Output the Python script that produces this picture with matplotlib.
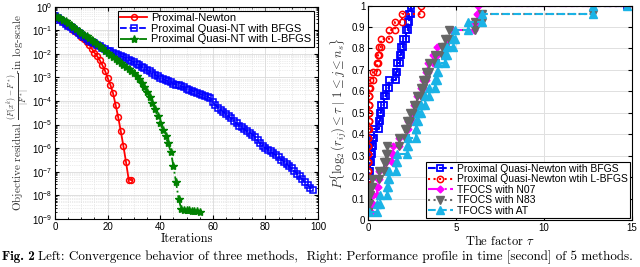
import numpy as np
import matplotlib
matplotlib.use("Agg")
import matplotlib.pyplot as plt
from matplotlib.ticker import FixedLocator, FuncFormatter, LogLocator, MultipleLocator, NullFormatter

# ---- left panel: log10 of relative objective residual per iteration
newton_log10 = [-0.40, -0.48, -0.56, -0.64, -0.72, -0.80, -0.88, -0.97, -1.06, -1.16,
                -1.27, -1.38, -1.50, -1.62, -1.78, -1.95, -2.10, -2.27, -2.48, -2.72,
                -3.02, -3.30, -3.65, -4.15, -4.68, -5.28, -5.92, -6.60, -7.33, -7.35]
bfgs_log10 = [-0.40, -0.48, -0.56, -0.64, -0.72, -0.80, -0.88, -0.96, -1.04, -1.12,
              -1.20, -1.28, -1.36, -1.44, -1.50, -1.56, -1.62, -1.68, -1.74, -1.80,
              -1.86, -1.90, -1.95, -2.00, -2.04, -2.09, -2.14, -2.18, -2.24, -2.30,
              -2.36, -2.42, -2.48, -2.55, -2.62, -2.68, -2.74, -2.80, -2.88, -2.95,
              -3.02, -3.06, -3.12, -3.16, -3.21, -3.26, -3.30, -3.33, -3.38, -3.42,
              -3.47, -3.52, -3.56, -3.60, -3.64, -3.70, -3.74, -3.78, -3.82, -3.88,
              -4.05, -4.18, -4.28, -4.38, -4.46, -4.56, -4.64, -4.74, -4.84, -4.95,
              -5.04, -5.12, -5.20, -5.28, -5.34, -5.42, -5.52, -5.66, -5.80, -5.92,
              -6.00, -6.06, -6.14, -6.22, -6.30, -6.38, -6.48, -6.58, -6.66, -6.76,
              -6.86, -6.98, -7.08, -7.20, -7.32, -7.44, -7.56, -7.68, -7.79]
lbfgs_log10 = [-0.38, -0.43, -0.49, -0.55, -0.62, -0.69, -0.77, -0.85, -0.93, -1.02,
               -1.10, -1.18, -1.25, -1.33, -1.40, -1.48, -1.57, -1.67, -1.77, -1.88,
               -1.98, -2.06, -2.14, -2.22, -2.30, -2.38, -2.46, -2.55, -2.64, -2.72,
               -2.80, -2.92, -3.06, -3.22, -3.40, -3.60, -3.85, -4.10, -4.35, -4.65,
               -4.95, -5.22, -5.50, -5.80, -6.15, -6.75, -7.45, -8.15, -8.58, -8.60,
               -8.62, -8.63, -8.65, -8.66, -8.68, -8.70]
left_labels = ["Proximal-Newton", "Proximal Quasi-NT with BFGS", "Proximal Quasi-NT with L-BFGS"]

# ---- right panel: sorted log2 time ratios of the 26 problems
tau_bfgs = [0.0, 0.0, 0.02, 0.04, 0.06, 0.08, 0.1, 0.15, 0.2, 0.26, 0.36, 0.6, 0.66,
            0.75, 0.9, 1.0, 1.2, 1.6, 1.65, 1.8, 1.9, 2.0, 2.15, 2.3, 2.35, 2.45]
tau_lbfgs = [0.0, 0.0, 0.0, 0.0, 0.0, 0.0, 0.0, 0.01, 0.01, 0.02, 0.02, 0.03, 0.03,
             0.04, 0.05, 0.06, 0.1, 0.3, 0.5, 0.55, 0.65, 0.75, 1.2, 1.55, 1.95, 3.0]
tau_n07 = [0.1, 0.15, 0.3, 0.5, 0.55, 0.6, 1.0, 1.35, 1.4, 1.75, 2.2, 2.3, 2.5,
           2.6, 2.8, 3.0, 3.15, 3.3, 3.4, 3.7, 3.9, 4.5, 4.75, 6.05, 6.2, 6.25]
tau_n83 = [0.0, 0.02, 0.05, 0.1, 0.2, 0.6, 0.9, 1.05, 1.1, 1.75, 2.1, 2.2, 2.4,
           2.6, 2.8, 3.0, 3.15, 3.3, 3.45, 3.8, 4.2, 4.4, 4.6, 6.1, 6.5, 12.8]
tau_at = [0.05, 0.5, 0.7, 1.1, 1.15, 1.2, 1.6, 1.65, 2.2, 2.3, 2.7, 2.75, 2.85,
          3.0, 3.25, 3.45, 3.8, 3.9, 4.0, 4.4, 4.5, 4.85, 4.95, 5.7, 6.5, 12.8]
tau_max = 14.7
right_labels = ["Proximal Quasi-Newton with BFGS", "Proximal Quasi-Newton wtih L-BFGS",
                "TFOCS with N07", "TFOCS with N83", "TFOCS with AT"]

plt.rcParams["font.family"] = ["Liberation Sans", "DejaVu Sans"]
plt.rcParams["font.size"] = 7

fig = plt.figure(figsize=(6.4, 2.67), dpi=100)
ax1 = fig.add_axes([0.086, 0.18, 0.411, 0.795])
ax2 = fig.add_axes([0.575, 0.176, 0.4125, 0.803])

it = lambda v: np.arange(len(v))
ax1.semilogy(it(newton_log10), 10.0 ** np.array(newton_log10), "-o", color="red",
             lw=1.3, ms=4.2, mfc="none", mew=1.1, label=left_labels[0])
ax1.semilogy(it(bfgs_log10), 10.0 ** np.array(bfgs_log10), "--s", color="blue",
             lw=1.3, ms=3.8, mfc="none", mew=1.1, label=left_labels[1])
ax1.semilogy(it(lbfgs_log10), 10.0 ** np.array(lbfgs_log10), "-.*", color=(0, 0.5, 0),
             lw=1.3, ms=6, label=left_labels[2])
ax1.set_xlim(0, 100)
ax1.set_ylim(1e-9, 1)
ax1.xaxis.set_major_locator(MultipleLocator(20))
ax1.xaxis.set_minor_locator(MultipleLocator(5))
ax1.yaxis.set_major_locator(LogLocator(base=10, numticks=12))
ax1.yaxis.set_minor_locator(LogLocator(base=10, subs=np.arange(2, 10), numticks=12))
ax1.yaxis.set_minor_formatter(NullFormatter())
ax1.yaxis.set_major_formatter(FuncFormatter(lambda v, p: r"$\mathregular{10^{%d}}$" % round(np.log10(v))))
ax1.grid(True, which="major", color="0.85", lw=0.6)
ax1.grid(True, which="minor", color="0.85", lw=0.5, ls=":")
ax1.set_axisbelow(True)
ax1.set_xlabel("Iterations", fontfamily="cmr10", fontsize=9, labelpad=1)
ax1.set_ylabel(r"Objective residual $\frac{(F(x^k)-F^*)}{|F^*|}$-in log-scale",
               fontfamily="cmr10", math_fontfamily="cm", fontsize=8, labelpad=0, color="0.2")
leg1 = ax1.legend(loc="upper right", fontsize=8, fancybox=False, framealpha=1,
                  edgecolor="black", borderpad=0.2, labelspacing=0.05, handlelength=2.4,
                  handletextpad=0.4, borderaxespad=0.4)
leg1.get_frame().set_linewidth(0.8)


def profile(tau):
    # stair vertices of the performance profile, marker on every corner
    n = len(tau)
    xs, ys = [], []
    for k, t in enumerate(tau):
        if k > 0:
            xs.append(t)
            ys.append(k / n)
        xs.append(t)
        ys.append((k + 1) / n)
    xs.append(tau_max)
    ys.append(1.0)
    return xs, ys


styles = [
    dict(ls="--", marker="s", color="blue", mfc="none", ms=3.8, mew=1.3),
    dict(ls=":", marker="o", color="red", mfc="none", ms=4.5, mew=1.1),
    dict(ls="-.", marker="D", color="magenta", mfc="magenta", ms=3.5),
    dict(ls=":", marker="v", color="0.4", mfc="0.4", ms=5.5),
    dict(ls="--", marker="^", color=(0.1, 0.7, 0.9), mfc=(0.1, 0.7, 0.9), ms=5.5),
]
for tau, lab, st in zip([tau_bfgs, tau_lbfgs, tau_n07, tau_n83, tau_at], right_labels, styles):
    xs, ys = profile(tau)
    ax2.plot(xs, ys, lw=1.5, label=lab, **st)
ax2.set_xlim(0, 15)
ax2.set_ylim(0, 1)
ax2.xaxis.set_major_locator(MultipleLocator(5))
ax2.yaxis.set_major_locator(FixedLocator(np.arange(0, 11) / 10))
ax2.yaxis.set_major_formatter(FuncFormatter(lambda v, p: "%g" % round(v, 1)))
ax2.grid(True, color="0.88", lw=0.7)
ax2.set_axisbelow(True)
ax2.set_xlabel(r"The factor $\tau$", fontfamily="cmr10", math_fontfamily="cm",
               fontsize=9, labelpad=1)
ax2.set_ylabel(r"$P\{\log_2(r_{ij})\leq\tau\ |\ 1\leq j\leq n_s\}$", math_fontfamily="cm",
               fontsize=9, labelpad=2, color="0.2")
leg2 = ax2.legend(loc="lower right", fontsize=7.5, fancybox=False, framealpha=1,
                  edgecolor="black", borderpad=0.2, labelspacing=0.05, handlelength=2.4,
                  handletextpad=0.4, borderaxespad=0.2)
leg2.get_frame().set_linewidth(0.8)

for ax in (ax1, ax2):
    ax.tick_params(which="both", direction="in", top=True, right=True, length=3,
                   labelsize=7, pad=2)
    ax.tick_params(which="minor", length=1.5)
    for s in ax.spines.values():
        s.set_linewidth(0.8)

fig.text(0.003, 0.037, "Fig. 2", fontfamily="cmb10", fontsize=9.4, va="center")
fig.text(0.06, 0.037, "Left: Convergence behavior of three methods,  Right: Performance "
         "profile in time [second] of 5 methods.", fontfamily="cmr10", fontsize=9.4, va="center")

fig.savefig("out.png", dpi=100)
